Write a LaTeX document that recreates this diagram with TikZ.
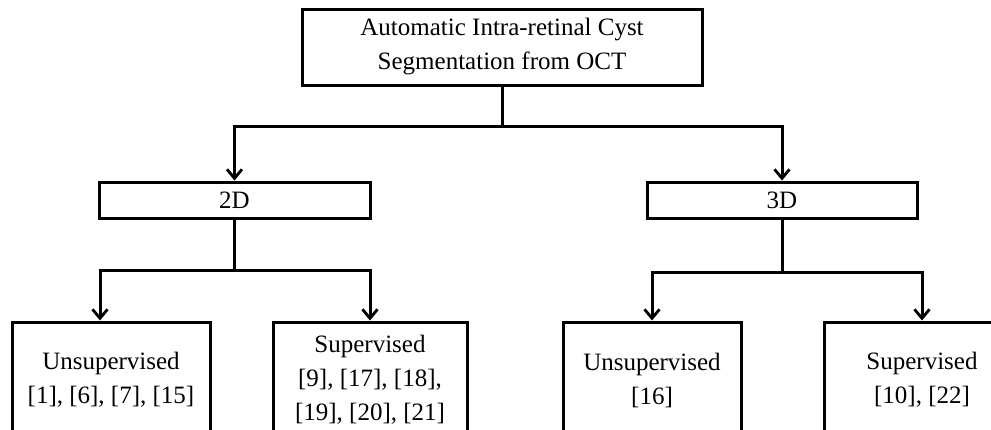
\documentclass[tikz,border=0pt]{standalone}
\usepackage{fontspec}
\setmainfont{Liberation Serif}
\usetikzlibrary{positioning,arrows.meta}
\tikzset{main node/.style={rectangle,draw,line width=3pt,inner sep=0pt,align=center,
    font=\fontsize{25}{34}\selectfont},
  arr/.style={line width=3pt,-{Straight Barb[length=9pt,width=15pt,line width=2.8pt]}},
}

\begin{document}
\begin{tikzpicture}[x=1pt,y=-1pt]
	\useasboundingbox (0,0) rectangle (991,429);
	\clip (0,0) rectangle (991,429);
	\node[main node,minimum width=400pt,minimum height=76pt] (top) at (502,47)
		{Automatic Intra-retinal Cyst\\Segmentation from OCT};
	\node[main node,minimum width=271pt,minimum height=36pt] (2d) at (234.5,200) {2D};
	\node[main node,minimum width=270pt,minimum height=36pt] (3d) at (782,200) {3D};
	\node[main node,minimum width=198pt,minimum height=116pt] (u2) at (111,380)
		{Unsupervised\\{[1], [6], [7], [15]}};
	\node[main node,minimum width=194pt,minimum height=116pt] (s2) at (370,380)
		{Supervised\\{[9], [17], [18],}\\{[19], [20], [21]}};
	\node[main node,minimum width=178pt,minimum height=116pt] (u3) at (652,380)
		{Unsupervised\\{[16]}};
	\node[main node,minimum width=196pt,minimum height=116pt] (s3) at (922,380)
		{Supervised\\{[10], [22]}};
	
	\coordinate (j1) at (502,126);
	\coordinate (j2) at (234.5,270);
	\coordinate (j3) at (782,272);
	
	\draw[arr] (top.south) -- (j1) -| (2d.north);
	\draw[arr] (j1) -| (3d.north);
	\draw[arr] (2d.south) -- (j2) -| ([xshift=-11pt]u2.north);
	\draw[arr] (j2) -| (s2.north);
	\draw[arr] (3d.south) -- (j3) -| (u3.north);
	\draw[arr] (j3) -| (s3.north);
\end{tikzpicture}
\end{document}
